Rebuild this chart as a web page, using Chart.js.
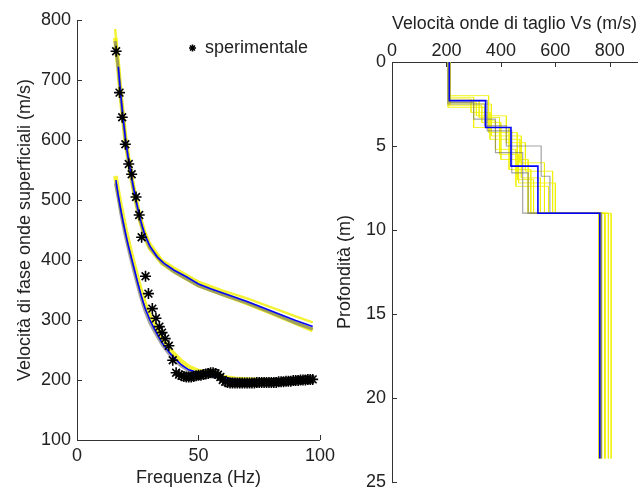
<!DOCTYPE html>
<html>
<head>
<meta charset="utf-8">
<script src="https://cdn.jsdelivr.net/npm/chart.js@4.4.0/dist/chart.umd.min.js"></script>
<style>
  html, body { margin: 0; padding: 0; background: #fff; }
  #wrap { position: relative; width: 643px; height: 492px; }
  canvas { position: absolute; top: 0; }
</style>
</head>
<body>
<div id="wrap">
  <canvas id="dispChart" width="340" height="492" style="left:0"></canvas>
  <canvas id="vsChart" width="313" height="492" style="left:330px"></canvas>
</div>
<script>
// dati sperimentali (curva di dispersione)
const expFreq = [16.1, 17.5, 18.6, 19.9, 21.3, 22.5, 24.3, 25.6, 26.6, 28.2, 29.4, 31.0, 32.5, 33.9, 35.0, 36.3, 37.8, 39.4, 40.8,
  42, 43, 44, 45, 46, 47, 48, 49, 50, 51, 52, 53, 54, 55, 56, 57, 58, 59, 60, 61, 62, 63, 64, 65, 66, 67, 68, 69, 70, 71,
  72, 73, 74, 75, 76, 77, 78, 79, 80, 81, 82, 83, 84, 85, 86, 87, 88, 89, 90, 91, 92, 93, 94, 95, 96, 97]
const expVel = [748, 679, 638, 593, 560, 543, 505, 475, 438, 373, 344, 319, 303, 289, 279, 269, 257, 233, 212,
  209, 207, 206, 205, 205, 205, 206, 207, 208, 208, 209, 210, 211, 212, 212, 211, 209, 205, 200, 197,
  196, 195, 195, 195, 195, 195, 195, 195, 195, 195, 195, 195, 196, 196, 196, 196, 196, 196, 196, 196,
  196, 197, 197, 197, 198, 198, 198, 199, 199, 199, 200, 200, 200, 201, 201, 201]

// modo superiore: best (blu), alternativi (grigio, giallo)
const upFreq = [17, 18, 19, 20, 21, 22, 23, 24, 25, 26, 27, 28, 30, 33, 36, 40, 45, 50, 55, 60, 65, 70, 75, 80, 85, 90, 95, 97]
const upBest = [722, 675, 635, 600, 572, 548, 526, 505, 486, 469, 454, 441, 423, 405, 394, 383, 372, 360, 352, 345, 338, 331, 323, 315, 307, 299, 292, 289]
const upAltFreq = [15.7, 17, 18, 20, 22, 24, 26, 28, 30, 35, 40, 50, 60, 70, 80, 90, 97]
const upYellowA = [785, 727, 680, 605, 553, 510, 475, 447, 428, 400, 387, 364, 349, 336, 321, 306, 296]
const upYellowB = [770, 720, 674, 598, 546, 503, 466, 438, 420, 395, 381, 358, 343, 328, 312, 295, 283]
const upGray = [765, 718, 672, 597, 545, 502, 465, 438, 420, 395, 380, 357, 342, 328, 312, 295, 285]

// modo fondamentale
const lowFreq = [16, 17, 18, 19, 20, 21, 22, 23, 24, 25, 26, 27, 28, 30, 32, 35, 38, 40, 43, 46, 50, 55, 60, 65, 70, 80, 90, 97]
const lowBest = [533, 507, 484, 463, 444, 426, 410, 394, 378, 362, 347, 333, 320, 300, 284, 262, 246, 237, 225, 217, 212, 207, 204, 201, 200, 198, 197, 197]
const lowAltFreq = [15.8, 17, 18, 20, 22, 24, 26, 28, 30, 32, 35, 38, 40, 43, 46, 50, 55, 60, 65, 70, 80, 90, 97]
const lowYellow = [540, 512, 490, 450, 416, 384, 353, 326, 306, 290, 268, 252, 243, 231, 222, 215, 210, 205, 202, 201, 199, 198, 198]
const lowGray = [528, 502, 478, 438, 404, 372, 341, 315, 295, 280, 259, 243, 234, 223, 215, 210, 206, 203, 201, 199, 197, 196, 196]

// profili Vs: velocita' degli strati e profondita' di base (m)
const vsBest = [211, 344, 437, 536, 763]
const zBest = [2.3, 3.9, 6.2, 9, 23.6]
const vsGray = [
  [210, 300, 380, 480, 766],
  [205, 340, 420, 548, 580, 770],
  [208, 350, 440, 500, 766]
]
const zGray = [
  [2.4, 3.4, 5.4, 9, 23.6],
  [2.5, 3.8, 5.0, 6.8, 9, 23.6],
  [2.3, 4.1, 6.6, 9, 23.6]
]
const vsYellow = [
  [207, 290, 360, 470, 560, 760],
  [212, 330, 400, 500, 805],
  [209, 355, 460, 520, 760],
  [214, 310, 420, 490, 590, 782],
  [206, 340, 380, 455, 575, 795],
  [210, 300, 430, 510, 770],
  [213, 365, 475, 545, 795],
  [208, 320, 395, 465, 600, 782]
]
const zYellow = [
  [2.2, 3.0, 4.6, 6.0, 9, 23.6],
  [2.6, 3.6, 5.8, 9, 23.6],
  [2.0, 4.2, 7.0, 9, 23.6],
  [2.4, 3.2, 4.8, 6.5, 9, 23.6],
  [2.7, 3.5, 5.2, 7.4, 9, 23.6],
  [2.1, 3.9, 6.4, 9, 23.6],
  [2.5, 4.4, 6.9, 9, 23.6],
  [2.3, 3.3, 5.5, 7.2, 9, 23.6]
]

const axisColor = '#333'
const yellow = 'rgba(240,240,0,0.8)'
const gray = 'rgba(115,115,115,0.65)'
const blue = '#0000ff'

Chart.defaults.font.family = '"Liberation Sans", Arial, sans-serif'
Chart.defaults.font.size = 18
Chart.defaults.color = '#222'

function xy(xs, ys) {
  return xs.map((x, i) => ({ x: x, y: ys[i] }))
}

function steps(vs, z) {
  const pts = []
  let top = 0
  vs.forEach((v, i) => {
    pts.push({ x: v, y: top }, { x: v, y: z[i] })
    top = z[i]
  })
  return pts
}

function curve(data, color, width, order) {
  return { data: data, showLine: true, borderColor: color, borderWidth: width, pointRadius: 0, order: order }
}

// tacche degli assi verso l'interno, come in MATLAB
const innerTicks = {
  id: 'innerTicks',
  afterDatasetsDraw(chart) {
    const ctx = chart.ctx
    ctx.save()
    ctx.strokeStyle = axisColor
    ctx.lineWidth = 1
    Object.values(chart.scales).forEach(scale => {
      scale.ticks.forEach(t => {
        const p = Math.round(scale.getPixelForValue(t.value)) + 0.5
        ctx.beginPath()
        if (scale.isHorizontal()) {
          const y = scale.position === 'top' ? scale.bottom : scale.top
          const d = scale.position === 'top' ? 5 : -5
          ctx.moveTo(p, y)
          ctx.lineTo(p, y + d)
        } else {
          ctx.moveTo(scale.right, p)
          ctx.lineTo(scale.right + 5, p)
        }
        ctx.stroke()
      })
    })
    ctx.restore()
  }
}

const legendPos = {
  id: 'legendPos',
  afterLayout(chart) {
    const lg = chart.legend
    if (!lg) return
    lg.left = 189
    lg.top = 39
    lg.right = lg.left + lg.width
    lg.bottom = lg.top + lg.height
  }
}

const noGrid = { display: false, drawTicks: false }

new Chart(document.getElementById('dispChart'), {
  type: 'scatter',
  data: {
    datasets: [
      { label: 'sperimentale', data: xy(expFreq, expVel), pointStyle: 'star', pointRadius: 5.5,
        pointBorderWidth: 1.6, borderColor: '#000', backgroundColor: '#000', order: 0 },
      curve(xy(upFreq, upBest), blue, 1.6, 1),
      curve(xy(lowFreq, lowBest), blue, 1.6, 1),
      curve(xy(upAltFreq, upGray), gray, 3, 2),
      curve(xy(lowAltFreq, lowGray), gray, 3, 2),
      curve(xy(upAltFreq, upYellowA), yellow, 2.5, 3),
      curve(xy(upAltFreq, upYellowB), yellow, 4.5, 3),
      curve(xy(lowAltFreq, lowYellow), yellow, 4.5, 3)
    ]
  },
  options: {
    responsive: false,
    animation: false,
    layout: { padding: { left: 0, top: 20, right: 17, bottom: 0 } },
    plugins: {
      tooltip: { enabled: false },
      legend: {
        position: 'chartArea',
        align: 'start',
        labels: {
          filter: item => item.text === 'sperimentale',
          usePointStyle: true,
          boxWidth: 7,
          boxHeight: 5,
          padding: 0,
          color: '#222'
        }
      }
    },
    scales: {
      x: {
        type: 'linear', min: 0, max: 100,
        ticks: { stepSize: 50, padding: 5 },
        grid: noGrid,
        border: { color: axisColor },
        title: { display: true, text: 'Frequenza (Hz)', padding: { top: 0, bottom: 3 } },
        afterFit: s => { s.height = 52 }
      },
      y: {
        min: 100, max: 800,
        ticks: { stepSize: 100, padding: 6 },
        grid: noGrid,
        border: { color: axisColor },
        title: { display: true, text: 'Velocità di fase onde superficiali (m/s)', padding: { top: 14, bottom: 0 } },
        afterFit: s => { s.width = 77 }
      }
    }
  },
  plugins: [innerTicks, legendPos]
})

const vsSets = []
vsYellow.forEach((v, i) => vsSets.push(curve(steps(v, zYellow[i]), yellow, 1, 3)))
vsGray.forEach((v, i) => vsSets.push(curve(steps(v, zGray[i]), gray, 1.2, 2)))
vsSets.push(curve(steps(vsBest, zBest), blue, 1.6, 1))

new Chart(document.getElementById('vsChart'), {
  type: 'scatter',
  data: { datasets: vsSets },
  options: {
    responsive: false,
    animation: false,
    layout: { padding: { left: 0, top: 0, right: 6, bottom: 10 } },
    plugins: { legend: { display: false }, tooltip: { enabled: false } },
    scales: {
      x: {
        type: 'linear', position: 'top', min: 0, max: 900,
        ticks: { stepSize: 200, includeBounds: false, padding: 0 },
        grid: noGrid,
        border: { color: axisColor },
        title: { display: true, text: 'Velocità onde di taglio Vs (m/s)', padding: { top: 13, bottom: 0 } },
        afterFit: s => { s.height = 62 }
      },
      y: {
        min: 0, max: 25, reverse: true,
        ticks: { stepSize: 5, padding: 6 },
        grid: noGrid,
        border: { color: axisColor },
        title: { display: true, text: 'Profondità (m)', padding: { top: 4, bottom: 0 } },
        afterFit: s => {
          s.width = 62
          s.paddingBottom = 0
          s.paddingTop = 0
        }
      }
    }
  },
  plugins: [innerTicks]
})
</script>
</body>
</html>
